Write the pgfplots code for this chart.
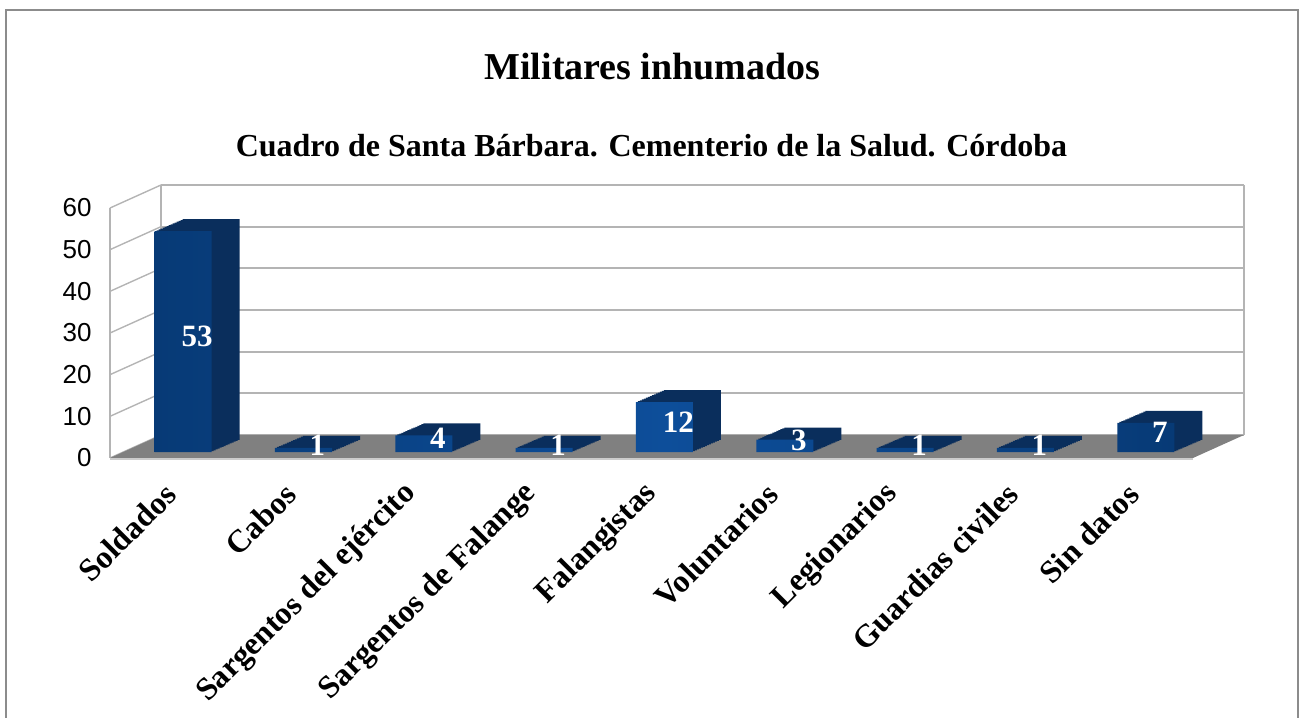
\documentclass[border=0pt]{standalone}
\usepackage{fontspec}
\setmainfont{Liberation Serif}
\setsansfont{Liberation Sans}
\usepackage{pgfplots}
\pgfplotsset{compat=1.18}
\usepackage{pgfplotstable}

\definecolor{frontC}{HTML}{0D4E9A}
\definecolor{frontD}{HTML}{073A76}
\definecolor{topC}{HTML}{0A2E5C}
\definecolor{gridC}{HTML}{B4B4B4}
\definecolor{floorC}{HTML}{808080}
\definecolor{frameC}{HTML}{8C8C8C}

\pgfplotstableread{
x y
0.5 53
1.5 1
2.5 4
3.5 1
4.5 12
5.5 3
6.5 1
7.5 1
8.5 7
}\datatable

\begin{document}
\begin{tikzpicture}
\useasboundingbox (0,0) rectangle (649.5pt,358.5pt);
\draw[frameC, line width=0.8pt] (3pt,-5pt) rectangle (649pt,353.5pt);
\node[font=\fontsize{19}{22}\selectfont\bfseries, anchor=base] at (326.25pt,318.5pt) {Militares inhumados};
\node[font=\fontsize{16}{19}\selectfont\bfseries, anchor=base] at (325.75pt,280pt) {Cuadro de Santa Bárbara. Cementerio de la Salud. Córdoba};

\begin{axis}[at={(61.5pt,132.5pt)}, anchor=south west, scale only axis,
  width=541.5pt, height=125pt, xmin=0, xmax=9, ymin=0, ymax=60,
  hide axis, clip=false]
\pgfplotsinvokeforeach{0,10,...,60}{
  \draw[gridC, line width=1pt] ([xshift=19pt,yshift=8.5pt]axis cs:0,#1) -- ([xshift=19pt,yshift=8.5pt]axis cs:9,#1);
  \draw[gridC, line width=0.7pt] ([xshift=-6.5pt,yshift=-3pt]axis cs:0,#1) -- ([xshift=19pt,yshift=8.5pt]axis cs:0,#1);
}
\draw[gridC, line width=1pt] ([xshift=19pt,yshift=8.5pt]axis cs:0,0) -- ([xshift=19pt,yshift=8.5pt]axis cs:0,60);
\draw[gridC, line width=1pt] ([xshift=19pt,yshift=8.5pt]axis cs:9,0) -- ([xshift=19pt,yshift=8.5pt]axis cs:9,60);
\draw[gridC, line width=0.7pt] ([xshift=-6.5pt,yshift=-3pt]axis cs:0,0) -- ([xshift=-6.5pt,yshift=-3pt]axis cs:0,60);
\fill[floorC] ([xshift=-6.5pt,yshift=-3pt]axis cs:0,0) -- ([xshift=-6.5pt,yshift=-3pt]axis cs:9,0) -- ([xshift=19pt,yshift=8.5pt]axis cs:9,0) -- ([xshift=19pt,yshift=8.5pt]axis cs:0,0) -- cycle;
\draw[gray!40, line width=0.8pt] ([xshift=-6.5pt,yshift=-3.4pt]axis cs:0,0) -- ([xshift=-6.5pt,yshift=-3.4pt]axis cs:9,0);
\end{axis}

\begin{axis}[at={(61.5pt,132.5pt)}, anchor=south west, scale only axis,
  width=541.5pt, height=125pt, xmin=0, xmax=9, ymin=0, ymax=60,
  clip=false, axis line style={draw=none}, major tick length=0pt,
  xtick=data,
  xticklabels={Soldados, Cabos, Sargentos del ejército, Sargentos de Falange, Falangistas, Voluntarios, Legionarios, Guardias civiles, Sin datos},
  xticklabel style={font=\fontsize{16}{19}\selectfont\bfseries, inner sep=0pt, xshift=-6.2pt, yshift=-18.5pt, rotate=45, anchor=east},
  ytick={0,10,...,60},
  yticklabel style={font=\fontsize{13}{15}\selectfont\sffamily, inner sep=0pt, anchor=east, xshift=-15.5pt, yshift=-3pt},
  /pgf/number format/assume math mode=true]
\pgfplotsinvokeforeach{1,...,14}{
  \addplot[ybar, bar width=28.5pt, bar shift=0pt, fill=topC, draw=none, xshift=#1*1pt, yshift=#1*0.4286pt] table[x=x,y=y] {\datatable};
}
\addplot[ybar, bar width=28.5pt, bar shift=0pt, draw=none, left color=frontD, right color=frontD, middle color=frontC] table[x=x,y=y] {\datatable};
\addplot[draw=none, mark=none, nodes near coords, point meta=explicit symbolic,
  every node near coord/.append style={anchor=center, font=\fontsize{15.5}{18}\selectfont\bfseries, text=white, xshift=7pt, yshift=2.5pt}]
  table[x=x, y expr=\thisrow{y}/2, meta=y] {\datatable};
\end{axis}
\end{tikzpicture}
\end{document}
